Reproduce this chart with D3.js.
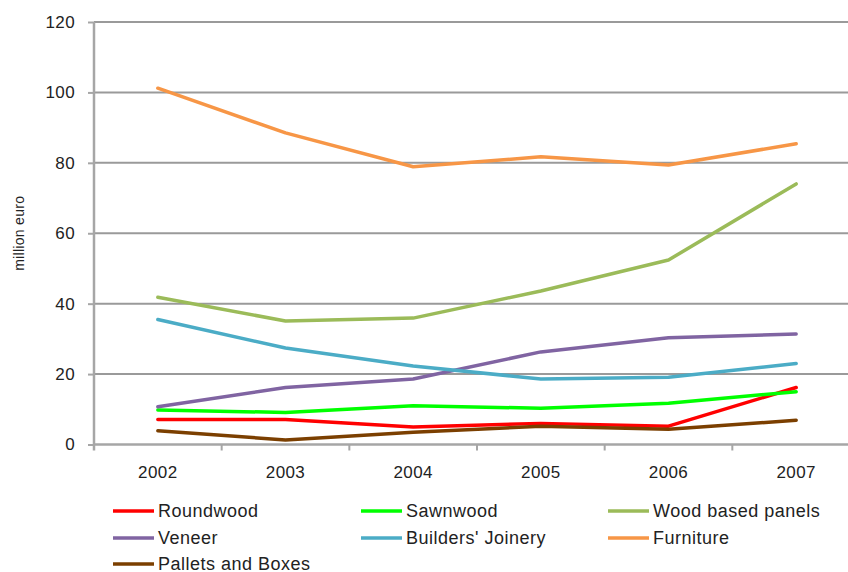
<!DOCTYPE html>
<html>
<head>
<meta charset="utf-8">
<script src="https://cdn.jsdelivr.net/npm/d3@7"></script>
<style>
  html, body { margin: 0; padding: 0; background: #fff; }
  svg { display: block; font-family: "Liberation Sans", Arial, sans-serif; }
</style>
</head>
<body>
<svg id="chart" width="848" height="572"></svg>
<script>
// Years on the category axis
const years = ["2002", "2003", "2004", "2005", "2006", "2007"];
// Value axis ticks (million euro)
const yTicks = [0, 20, 40, 60, 80, 100, 120];

// Series values per year, million euro
const roundwood      = [7.1, 7.1, 5.0, 6.0, 5.2, 16.2];
const sawnwood       = [9.8, 9.1, 11.0, 10.3, 11.7, 15.0];
const woodPanels     = [41.8, 35.1, 35.9, 43.6, 52.4, 74.0];
const veneer         = [10.7, 16.2, 18.6, 26.3, 30.3, 31.4];
const joinery        = [35.5, 27.4, 22.3, 18.6, 19.1, 23.0];
const furniture      = [101.2, 88.5, 78.9, 81.7, 79.4, 85.4];
const pallets        = [3.9, 1.3, 3.5, 5.2, 4.3, 6.9];

const seriesNames  = ["Roundwood", "Sawnwood", "Wood based panels", "Veneer", "Builders' Joinery", "Furniture", "Pallets and Boxes"];
const seriesValues = [roundwood, sawnwood, woodPanels, veneer, joinery, furniture, pallets];
const seriesColors = ["#FF0000", "#00FF00", "#9BBB59", "#8064A2", "#4BACC6", "#F79646", "#7B3F00"];

const svg = d3.select("#chart");

const plot = { left: 94, right: 860, top: 22, bottom: 444.5 };

const x = d3.scalePoint().domain(years).range([plot.left, plot.right]).padding(0.5);
const step = x.step();
const y = d3.scaleLinear().domain([0, 120]).range([plot.bottom, plot.top]);

// Horizontal gridlines
svg.append("g")
  .selectAll("line")
  .data(yTicks.filter(d => d > 0))
  .join("line")
  .attr("x1", plot.left).attr("x2", plot.right)
  .attr("y1", d => y(d)).attr("y2", d => y(d))
  .attr("stroke", "#9a9a9a").attr("stroke-width", 2);

// Value axis
const yAxis = d3.axisLeft(y).tickValues(yTicks).tickSize(6).tickPadding(13);
const gy = svg.append("g").attr("transform", `translate(${plot.left},0)`).call(yAxis);
gy.select(".domain").attr("stroke", "#a6a6a6").attr("stroke-width", 2.5)
  .attr("d", `M0,${plot.top}V${plot.bottom + 6}`);
gy.selectAll(".tick line").attr("stroke", "#a6a6a6").attr("stroke-width", 2);
gy.selectAll(".tick text")
  .attr("fill", "#222").attr("font-size", 17).attr("letter-spacing", "0.4px")
  .attr("font-family", "Liberation Sans, Arial, sans-serif");

// Category axis line with boundary tick marks
const gx = svg.append("g");
gx.append("line")
  .attr("x1", plot.left).attr("x2", plot.right)
  .attr("y1", plot.bottom).attr("y2", plot.bottom)
  .attr("stroke", "#a6a6a6").attr("stroke-width", 2.5);
gx.selectAll("line.tk")
  .data(years.slice(1))
  .join("line").attr("class", "tk")
  .attr("x1", d => x(d) - step / 2).attr("x2", d => x(d) - step / 2)
  .attr("y1", plot.bottom).attr("y2", plot.bottom + 6)
  .attr("stroke", "#a6a6a6").attr("stroke-width", 2);
gx.selectAll("text")
  .data(years)
  .join("text")
  .attr("x", d => x(d)).attr("y", 478)
  .attr("text-anchor", "middle")
  .attr("fill", "#222").attr("font-size", 17).attr("letter-spacing", "0.4px")
  .text(d => d);

// Axis title
svg.append("text")
  .attr("transform", `translate(24,${(plot.top + plot.bottom) / 2}) rotate(-90)`)
  .attr("text-anchor", "middle")
  .attr("fill", "#222").attr("font-size", 14).attr("letter-spacing", "0.3px")
  .text("million euro");

// Series lines
const line = d3.line()
  .x((d, i) => x(years[i]))
  .y(d => y(d))
  .curve(d3.curveLinear);

svg.append("g")
  .selectAll("path")
  .data(seriesValues)
  .join("path")
  .attr("d", d => line(d))
  .attr("fill", "none")
  .attr("stroke", (d, i) => seriesColors[i])
  .attr("stroke-width", 3.5)
  .attr("stroke-linecap", "round")
  .attr("stroke-linejoin", "round");

// Legend: three columns
const colX = [113, 361, 608];
const rowY = [511, 538, 564];
const legend = svg.append("g")
  .selectAll("g")
  .data(seriesNames)
  .join("g")
  .attr("transform", (d, i) => `translate(${colX[i % 3]},${rowY[Math.floor(i / 3)]})`);
legend.append("line")
  .attr("x1", 0).attr("x2", 41).attr("y1", 0).attr("y2", 0)
  .attr("stroke", (d, i) => seriesColors[i]).attr("stroke-width", 3.5);
legend.append("text")
  .attr("x", 45).attr("y", 6)
  .attr("fill", "#222").attr("font-size", 18).attr("letter-spacing", "0.5px")
  .text(d => d);
</script>
</body>
</html>
